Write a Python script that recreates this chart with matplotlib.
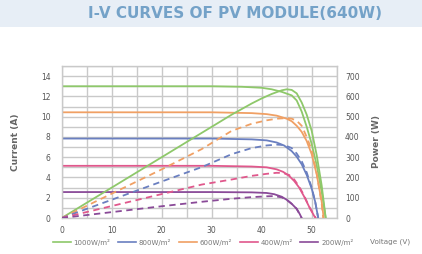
import matplotlib
matplotlib.use("Agg")
import matplotlib.pyplot as plt
from matplotlib.ticker import MultipleLocator

# ---- data ----
labels = ["1000W/m²", "800W/m²", "600W/m²", "400W/m²", "200W/m²"]
colors = ["#8ec86a", "#6a7fc0", "#f0a064", "#e0588c", "#8a4a98"]

# I-V curves (voltage V, current A) ; drawn colours follow the picture
iv_green_v = [0, 30, 36, 40, 42, 44, 46, 47, 48, 49, 50, 51, 52, 52.8]
iv_green_i = [13.0, 13.0, 12.95, 12.85, 12.7, 12.45, 12.1, 11.6, 10.5, 9.0, 7.3, 5.2, 2.6, 0]
iv_orange_v = [0, 30, 38, 41, 43, 45, 46, 47, 48, 49, 50, 51, 52, 52.4]
iv_orange_i = [10.43, 10.43, 10.35, 10.25, 10.1, 9.8, 9.55, 9.1, 8.5, 7.6, 6.3, 4.3, 1.6, 0]
iv_blue_v = [0, 30, 38, 41, 43, 44.5, 46, 47, 48, 49, 50, 50.7, 51.3]
iv_blue_i = [7.84, 7.84, 7.76, 7.66, 7.45, 7.15, 6.6, 6.05, 5.3, 4.25, 2.9, 1.6, 0]
iv_pink_v = [0, 30, 38, 41, 43, 44.3, 45.5, 46.5, 47.5, 48.5, 49.5, 50.5, 50.8]
iv_pink_i = [5.15, 5.15, 5.08, 5.0, 4.8, 4.55, 4.15, 3.65, 3.0, 2.1, 1.1, 0.2, 0]
iv_purple_v = [0, 30, 38, 41, 42.5, 44, 45, 46, 47, 47.6, 48]
iv_purple_i = [2.56, 2.56, 2.53, 2.47, 2.35, 2.1, 1.8, 1.4, 0.9, 0.4, 0]

# P-V curves (voltage V, power W)
pv_green_v = [0, 10, 20, 28, 34, 38, 40, 42, 44, 45, 46, 47, 48, 49, 50, 51, 52, 52.8]
pv_green_p = [0, 150, 300, 420, 510, 565, 590, 612, 630, 635, 632, 615, 570, 510, 430, 310, 160, 0]
pv_orange_v = [0, 10, 20, 28, 34, 38, 41, 43, 45, 46, 47, 48, 49, 50, 51, 52, 52.3]
pv_orange_p = [0, 120, 240, 340, 430, 465, 482, 490, 493, 490, 480, 455, 400, 335, 220, 70, 0]
pv_blue_v = [0, 10, 20, 28, 34, 38, 41, 43, 44.5, 46, 47, 48, 49, 50, 50.7, 51.3]
pv_blue_p = [0, 90, 180, 251, 315, 345, 358, 362, 360, 345, 318, 280, 225, 150, 80, 0]
pv_pink_v = [0, 10, 20, 28, 34, 38, 41, 43, 44.3, 45.5, 46.5, 47.5, 48.5, 49.5, 50.8]
pv_pink_p = [0, 59, 118, 165, 190, 208, 218, 223, 222, 212, 190, 155, 110, 55, 0]
pv_purple_v = [0, 10, 20, 28, 34, 38, 41, 42.5, 44, 45, 46, 47, 48]
pv_purple_p = [0, 29, 58, 80, 95, 103, 107, 108, 102, 90, 70, 45, 0]

title = "I-V CURVES OF PV MODULE(640W)"
left_ticks = [0, 2, 4, 6, 8, 10, 12, 14]
right_ticks = [0, 100, 200, 300, 400, 500, 600, 700]
x_ticks = [0, 10, 20, 30, 40, 50]

# ---- figure ----
fig = plt.figure(figsize=(4.22, 2.54), dpi=100)
fig.patch.set_facecolor("white")
# title band
fig.patches.append(plt.Rectangle((0, 1 - 27 / 254), 1, 27 / 254, transform=fig.transFigure,
                                 facecolor="#e7eef6", edgecolor="none", zorder=0))
fig.text(0.557, 1 - 14 / 254, title, ha="center", va="center", fontsize=11,
         fontweight="bold", color="#74a2c8", family="DejaVu Sans")

ax = fig.add_axes([61.7 / 422, 1 - 218 / 254, 275 / 422, 152 / 254])
ax.set_xlim(0, 55)
ax.set_ylim(0, 15)
ax.xaxis.set_minor_locator(MultipleLocator(5))
ax.yaxis.set_minor_locator(MultipleLocator(1))
ax.set_xticks(x_ticks)
ax.set_yticks(left_ticks)
ax.grid(which="both", color="#c9c9c9", linewidth=1.0)
ax.set_axisbelow(True)
for s in ax.spines.values():
    s.set_color("#c9c9c9")
    s.set_linewidth(1.0)
ax.tick_params(axis="y", which="both", length=0, labelsize=5.5, labelcolor="#555555", pad=8)
ax.tick_params(axis="x", which="both", length=0, labelsize=5.5, labelcolor="#555555", pad=6)
ax.set_ylabel("Current (A)", fontsize=6.5, fontweight="bold", color="#666666", labelpad=15)

ax2 = ax.twinx()
ax2.set_ylim(0, 750)
ax2.set_yticks(right_ticks)
ax2.tick_params(length=0, labelsize=5.5, labelcolor="#555555", pad=6)
for s in ax2.spines.values():
    s.set_visible(False)
ax2.set_ylabel("Power (W)", fontsize=6.5, fontweight="bold", color="#666666", labelpad=9)

lw = 1.3
dash = (0, (3.5, 2.5))
# I-V curves
ax.plot(iv_green_v, iv_green_i, color=colors[0], lw=lw)
ax.plot(iv_orange_v, iv_orange_i, color=colors[2], lw=lw)
ax.plot(iv_blue_v, iv_blue_i, color=colors[1], lw=lw)
ax.plot(iv_pink_v, iv_pink_i, color=colors[3], lw=lw)
ax.plot(iv_purple_v, iv_purple_i, color=colors[4], lw=lw)
# P-V curves
ax2.plot(pv_green_v, pv_green_p, color=colors[0], lw=lw)
ax2.plot(pv_orange_v, pv_orange_p, color=colors[2], lw=lw, linestyle=dash)
ax2.plot(pv_blue_v, pv_blue_p, color=colors[1], lw=lw, linestyle=dash)
ax2.plot(pv_pink_v, pv_pink_p, color=colors[3], lw=lw, linestyle=dash)
ax2.plot(pv_purple_v, pv_purple_p, color=colors[4], lw=lw, linestyle=dash)

handles = [plt.Line2D([], [], color=c, lw=1.2) for c in colors]
fig.legend(handles, labels, loc="center", bbox_to_anchor=(203 / 422, 1 - 242 / 254), ncol=5,
           frameon=False, fontsize=5, handlelength=2.6, handletextpad=0.4, columnspacing=1.1,
           labelcolor="#777777")
fig.text(390 / 422, 1 - 242 / 254, "Voltage (V)", ha="center", va="center", fontsize=5.2,
         color="#777777")

fig.savefig("out.png", dpi=100)
